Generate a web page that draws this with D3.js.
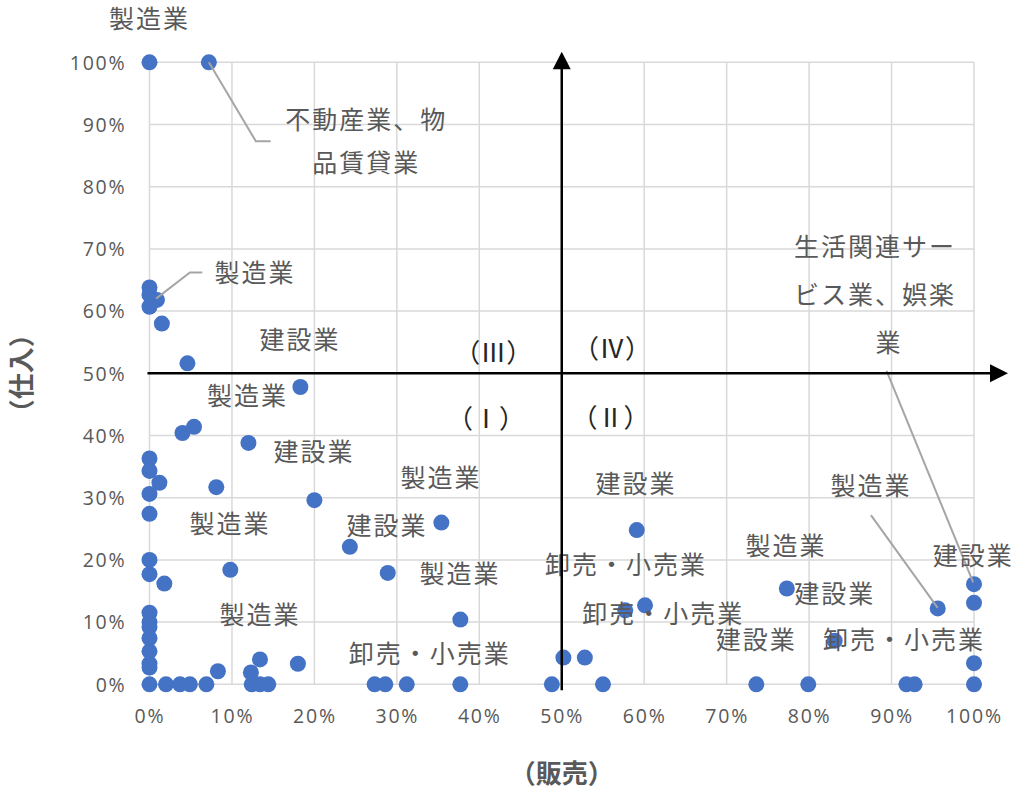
<!DOCTYPE html>
<html>
<head>
<meta charset="utf-8">
<script src="https://cdn.jsdelivr.net/npm/d3@7"></script>
<style>
  html, body { margin: 0; padding: 0; background: #fff; }
  svg { display: block; }
</style>
</head>
<body>
<svg id="chart" width="1017" height="794"></svg>
<script>
// Share of sales (販売, x) and purchases (仕入, y) per company, in percent
const salesPct = [
  0, 7.2, 0, 0, 0.9, 0, 1.5, 4.6, 18.3, 4.0, 5.4, 12.0,
  0, 0, 1.2, 8.1, 0, 20.0, 0, 0, 0, 1.8, 9.8, 24.3,
  35.4, 28.9, 37.7, 59.1, 57.7, 60.1, 50.2, 52.8,
  0, 0, 0, 0, 0, 0, 0, 0,
  2.0, 3.7, 4.9, 6.9,
  8.3, 13.4, 18.0, 12.3,
  12.4, 13.4, 14.4,
  27.3, 28.6, 31.2, 37.7, 48.8, 55.0,
  77.3, 95.6, 100, 100, 83.1, 100,
  73.6, 79.9, 91.8, 92.8, 100
];
const purchasePct = [
  100, 100, 63.8, 62.6, 61.8, 60.7, 58.0, 51.6, 47.8, 40.4, 41.4, 38.8,
  36.3, 34.3, 32.4, 31.7, 30.6, 29.6, 27.4, 20.0, 17.7, 16.2, 18.4, 22.1,
  26.0, 17.9, 10.4, 24.8, 11.9, 12.7, 4.3, 4.3,
  11.5, 10.0, 9.2, 7.4, 5.3, 3.3, 2.7, 0,
  0, 0, 0, 0,
  2.1, 4.0, 3.3, 1.9,
  0, 0, 0,
  0, 0, 0, 0, 0, 0,
  15.4, 12.2, 16.1, 13.1, 7.0, 3.4,
  0, 0, 0, 0, 0
];

// Industry labels, each line placed in chart units (x%, y%)
const labelText = [
  "製造業", "不動産業、物", "品賃貸業", "製造業", "建設業", "製造業", "建設業",
  "製造業", "製造業", "建設業", "建設業", "卸売・小売業", "製造業", "製造業",
  "建設業", "建設業", "卸売・小売業", "製造業", "卸売・小売業", "建設業",
  "卸売・小売業", "製造業", "生活関連サー", "ビス業、娯楽", "業"
];
const labelX = [
  0, 26.3, 26.3, 12.8, 18.25, 11.9, 19.95,
  35.35, 9.75, 28.8, 59.0, 57.8, 37.65, 77.2,
  99.9, 83.1, 62.3, 13.4, 34.0, 73.6,
  91.5, 87.5, 88.0, 88.0, 89.7
];
const labelY = [
  106.9, 90.7, 83.8, 66.1, 55.4, 46.4, 37.4,
  33.2, 25.7, 25.5, 32.2, 19.2, 17.7, 22.3,
  20.6, 14.5, 11.3, 11.2, 4.9, 7.1,
  7.1, 31.9, 70.3, 62.6, 54.9
];

// Quadrant names
const quadrantText = ["（Ⅲ）", "（Ⅳ）", "（Ⅰ）", "（Ⅱ）"];
const quadrantX = [41.7, 56.1, 40.8, 55.9];
const quadrantY = [53.4, 53.9, 42.7, 42.9];

// Leader lines from a label to its point (x%, y% vertices)
const leaderLines = [
  [[7.2, 100], [12.9, 87.3], [14.7, 87.3]],
  [[0.8, 62.0], [4.9, 66.2], [6.4, 66.2]],
  [[87.5, 27.2], [95.6, 12.3]],
  [[89.4, 50.4], [99.9, 16.4]]
];

const tickValues = [0, 10, 20, 30, 40, 50, 60, 70, 80, 90, 100];
const xTitle = "（販売）";
const yTitle = "（仕入）";

const svg = d3.select("#chart");
const W = 1017, H = 794;
const margin = { left: 149.5, right: W - 974, top: 62.3, bottom: H - 684.3 };

const x = d3.scaleLinear().domain([0, 100]).range([margin.left, W - margin.right]);
const y = d3.scaleLinear().domain([0, 100]).range([H - margin.bottom, margin.top]);

const textColor = "#595959";
const gridColor = "#d9d9d9";
const cjkFont = "'Noto Sans CJK JP', 'Noto Sans', sans-serif";
const tickFont = "'Open Sans', 'Noto Sans', sans-serif";

// Grid
const grid = svg.append("g");
grid.selectAll("line.v").data(tickValues).join("line")
  .attr("x1", d => x(d)).attr("x2", d => x(d))
  .attr("y1", y(0)).attr("y2", y(100))
  .attr("stroke", gridColor).attr("stroke-width", 1.5);
grid.selectAll("line.h").data(tickValues).join("line")
  .attr("y1", d => y(d)).attr("y2", d => y(d))
  .attr("x1", x(0)).attr("x2", x(100))
  .attr("stroke", gridColor).attr("stroke-width", 1.5);

// Axes (tick labels only)
const fmt = d => d + "%";
const xAxis = svg.append("g")
  .attr("transform", `translate(0,${y(0) + 25})`)
  .call(d3.axisBottom(x).tickValues(tickValues).tickFormat(fmt).tickSize(0).tickPadding(0));
const yAxis = svg.append("g")
  .attr("transform", `translate(${x(0) - 23},0)`)
  .call(d3.axisLeft(y).tickValues(tickValues).tickFormat(fmt).tickSize(0).tickPadding(0));
[xAxis, yAxis].forEach(a => {
  a.select(".domain").remove();
  a.selectAll("text")
    .attr("fill", textColor)
    .style("font-family", tickFont)
    .style("font-size", "19.5px")
    .style("letter-spacing", "1.8px");
});
xAxis.selectAll("text").attr("dy", "0.71em");
yAxis.selectAll("text").attr("dy", "0.35em");

// Points
const pts = d3.zip(salesPct, purchasePct);
svg.append("g").selectAll("circle").data(pts).join("circle")
  .attr("cx", d => x(d[0])).attr("cy", d => y(d[1]))
  .attr("r", 8).attr("fill", "#4472c4");

// Leader lines
const lineGen = d3.line().x(d => x(d[0])).y(d => y(d[1]));
svg.append("g").selectAll("path").data(leaderLines).join("path")
  .attr("d", lineGen).attr("fill", "none")
  .attr("stroke", "#a5a5a5").attr("stroke-width", 2);

// Labels
const labels = d3.zip(labelText, labelX, labelY);
svg.append("g").selectAll("text").data(labels).join("text")
  .attr("x", d => x(d[1])).attr("y", d => y(d[2]))
  .attr("text-anchor", "middle").attr("dy", "0.36em")
  .attr("fill", textColor)
  .style("font-family", cjkFont).style("font-size", "25px")
  .style("letter-spacing", "2px")
  .text(d => d[0]);

svg.append("g").selectAll("text").data(d3.zip(quadrantText, quadrantX, quadrantY)).join("text")
  .attr("x", d => x(d[1])).attr("y", d => y(d[2]))
  .attr("text-anchor", "middle").attr("dy", "0.36em")
  .attr("fill", "#262626")
  .style("font-family", cjkFont).style("font-size", "26px")
  .text(d => d[0]);

// Quadrant arrows through the 50% / 50% point
const arrows = svg.append("g");
arrows.append("line")
  .attr("x1", x(0) - 2).attr("x2", x(100) + 18)
  .attr("y1", y(50)).attr("y2", y(50))
  .attr("stroke", "#000").attr("stroke-width", 2.5);
arrows.append("path")
  .attr("d", `M${x(100) + 16},${y(50) - 9} L${x(100) + 34},${y(50)} L${x(100) + 16},${y(50) + 9} Z`)
  .attr("fill", "#000");
arrows.append("line")
  .attr("x1", x(50)).attr("x2", x(50))
  .attr("y1", y(0) + 6).attr("y2", y(100) + 5)
  .attr("stroke", "#000").attr("stroke-width", 2.5);
arrows.append("path")
  .attr("d", `M${x(50) - 9},${y(100) + 7} L${x(50)},${y(100) - 10.5} L${x(50) + 9},${y(100) + 7} Z`)
  .attr("fill", "#000");

// Axis titles
svg.append("text")
  .attr("x", x(50)).attr("y", 774)
  .attr("text-anchor", "middle").attr("dy", "0.36em")
  .attr("fill", textColor)
  .style("font-family", cjkFont).style("font-size", "26px").style("font-weight", "bold")
  .text(xTitle);
svg.append("text")
  .attr("transform", `translate(22,${y(50)}) rotate(-90)`)
  .attr("text-anchor", "middle").attr("dy", "0.36em")
  .attr("fill", textColor)
  .style("font-family", cjkFont).style("font-size", "26px").style("font-weight", "bold")
  .text(yTitle);
</script>
</body>
</html>
